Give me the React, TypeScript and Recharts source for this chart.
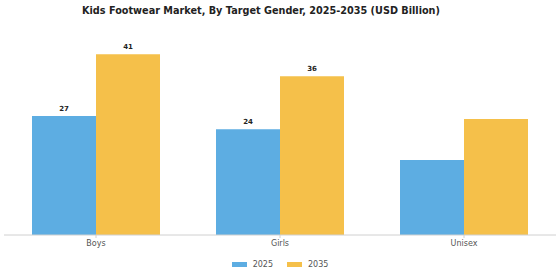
import React from "react";
import { BarChart, Bar, XAxis, YAxis, LabelList } from "recharts";

const categories = ["Boys", "Girls", "Unisex"];
const values2025 = [27, 24, 17];
const values2035 = [41, 36, 26.3];
const labels2025 = ["27", "24", ""];
const labels2035 = ["41", "36", ""];
const seriesNames = ["2025", "2035"];
const seriesColors = ["#5DADE2", "#F5C04A"];

const data = categories.map((c, i) => ({
  name: c,
  v2025: values2025[i],
  v2035: values2035[i],
  l2025: labels2025[i],
  l2035: labels2035[i],
}));

const FONT = "'DejaVu Sans', sans-serif";

export default function App() {
  return (
    <div style={{ position: "absolute", left: 0, top: 0, width: 560, height: 280, background: "#fff", fontFamily: FONT }}>
      <div
        style={{
          position: "absolute",
          left: 0,
          width: 522,
          top: 5,
          textAlign: "center",
          fontWeight: "bold",
          fontSize: 9.7,
          color: "#222",
          fontFamily: FONT,
        }}
      >
        Kids Footwear Market, By Target Gender, 2025-2035 (USD Billion)
      </div>
      <BarChart
        width={560}
        height={280}
        data={data}
        margin={{ top: 41, right: 4, bottom: 15, left: 4 }}
        barCategoryGap={28}
        barGap={0}
      >
        <XAxis
          dataKey="name"
          height={30}
          axisLine={{ stroke: "#d0d0d0" }}
          tickLine={{ stroke: "#d0d0d0" }}
          tickSize={3}
          tick={{ fill: "#555", fontSize: 8, fontFamily: FONT }}
        />
        <YAxis hide domain={[0, 44]} />
        <Bar dataKey="v2025" fill={seriesColors[0]} isAnimationActive={false}>
          <LabelList dataKey="l2025" position="top" offset={5} style={{ fontSize: 7, fontWeight: "bold", fill: "#222", fontFamily: FONT }} />
        </Bar>
        <Bar dataKey="v2035" fill={seriesColors[1]} isAnimationActive={false}>
          <LabelList dataKey="l2035" position="top" offset={5} style={{ fontSize: 7, fontWeight: "bold", fill: "#222", fontFamily: FONT }} />
        </Bar>
      </BarChart>
      <div
        style={{
          position: "absolute",
          left: 0,
          width: 560,
          top: 260,
          display: "flex",
          justifyContent: "center",
          gap: 14,
          fontSize: 8,
          color: "#555",
          fontFamily: FONT,
        }}
      >
        {seriesNames.map((n, i) => (
          <span key={n} style={{ display: "inline-flex", alignItems: "center" }}>
            <span style={{ display: "inline-block", width: 15, height: 5, background: seriesColors[i], marginRight: 6 }} />
            {n}
          </span>
        ))}
      </div>
    </div>
  );
}
